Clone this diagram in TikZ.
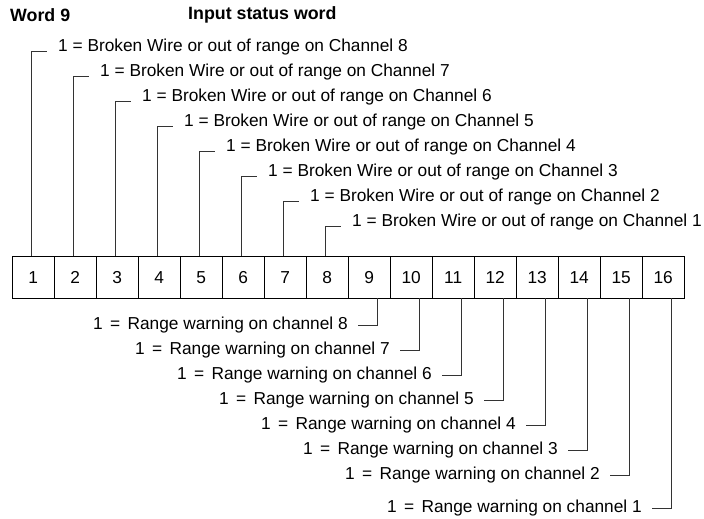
\documentclass[tikz,border=0pt]{standalone}
\usepackage{fontspec}
\setmainfont{Liberation Sans}
\usetikzlibrary{positioning}

\begin{document}
\begin{tikzpicture}[x=1pt, y=-1pt,
    every node/.style={font=\fontsize{17.3}{20}\selectfont},
    bitbox/.style={draw, minimum width=42pt, minimum height=42pt, inner sep=0pt, text height=12.5pt, text depth=0pt, anchor=north west},
    flag/.style={inner sep=0pt},
    heading/.style={inner sep=0pt, anchor=west, font=\bfseries\fontsize{17.8}{20}\selectfont},
    lead/.style={black!80, line width=0.8pt}]
	\useasboundingbox (0,0) rectangle (704,519);
	% headings
	\node[heading] (word) at (10,15) {Word 9};
	\node[heading] (title) at (188,15) {Input status word};
	% the sixteen bits of the word
	\foreach \i in {1,...,16}
		\node[bitbox] (b\i) at ({12+42*(\i-1)},256) {\i};
	% bits 1-8: broken wire flags
	\foreach \i [evaluate=\i as \ch using int(9-\i)] in {1,...,8} {
		\node[flag, anchor=west] (w\i) at ({12+42*(\i-0.5)+25},{47+25*(\i-1)}) {1 = Broken Wire or out of range on Channel \ch};
		\draw[lead] ([xshift=-2pt]b\i.north) |- ([xshift=-11pt,yshift=-4pt]w\i.west);
	}
	% bits 9-16: range warnings
	\foreach \i [evaluate=\i as \ch using int(17-\i)] in {9,...,16} {
		\node[flag, anchor=east] (r\i) at ({12+42*(\i-0.5)-21},{325+25*(\i-9)+8*(\i==16)}) {1\hspace{2.5pt} = \hspace{2.5pt}Range warning on channel \ch};
		\draw[lead] ([xshift=8pt]b\i.south) |- ([xshift=10pt]r\i.east);
	}
\end{tikzpicture}
\end{document}
